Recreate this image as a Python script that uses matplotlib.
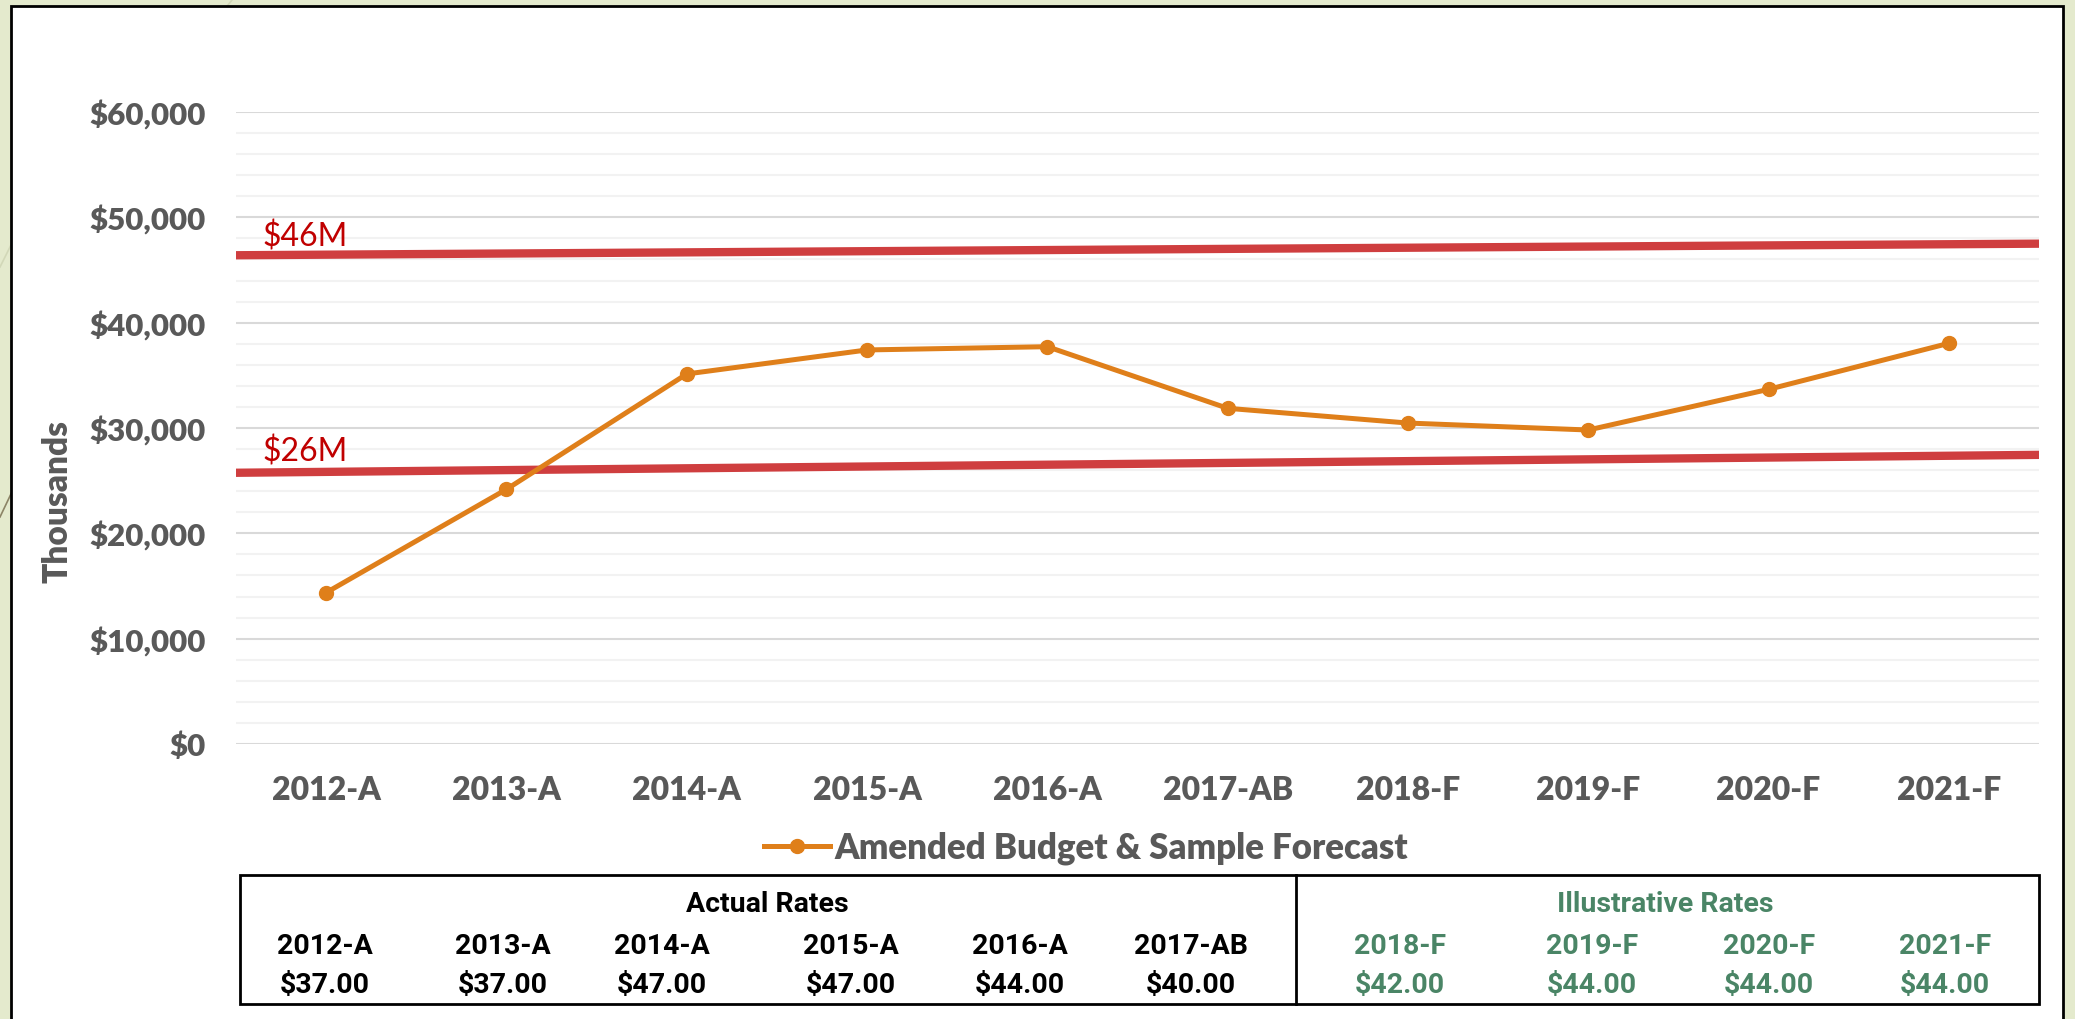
#!/usr/bin/env python3
import matplotlib
matplotlib.use('Agg')
import matplotlib.pyplot as plt
from matplotlib.lines import Line2D
from matplotlib.patches import Rectangle
from matplotlib.ticker import MultipleLocator, FuncFormatter

#%% data
categories = ['2012-A', '2013-A', '2014-A', '2015-A', '2016-A', '2017-AB',
              '2018-F', '2019-F', '2020-F', '2021-F']
forecast = [14370, 24180, 35130, 37410, 37720, 31870, 30470, 29810, 33670, 38040]  # thousands $

limit_labels = ['$46M', '$26M']
limit_start = [46400, 25750]
limit_end = [47500, 27450]

actual_years = ['2012-A', '2013-A', '2014-A', '2015-A', '2016-A', '2017-AB']
actual_rates = ['$37.00', '$37.00', '$47.00', '$47.00', '$44.00', '$40.00']
illus_years = ['2018-F', '2019-F', '2020-F', '2021-F']
illus_rates = ['$42.00', '$44.00', '$44.00', '$44.00']

#%% style
W, H = 2075, 1019
bg = '#E4EACD'
gray = '#595959'
orange = '#DF7F1A'
red = '#CF3E3F'
green = '#4A8566'
axfont = ['Lato', 'DejaVu Sans']
tabfont = ['Roboto', 'DejaVu Sans']
heavy = 'heavy'

def fx(x):
    return x / W

def fy(y):
    return 1 - y / H

fg = plt.figure(figsize=(W / 100, H / 100), dpi=100, facecolor=bg)

# slide decoration behind the panel
for (x0, y0, x1, y1, c) in [(0, 517, 40, 433, '#8C8466'), (0, 267, 40, 187, '#D2D8B8'),
                            (200, 40, 240, -10, '#D2D8B8')]:
    fg.add_artist(Line2D([fx(x0), fx(x1)], [fy(y0), fy(y1)], color=c, lw=1.2, zorder=0))

# white panel
fg.add_artist(Rectangle((fx(11), fy(1030)), fx(2063) - fx(11), fy(6) - fy(1030),
                        facecolor='white', edgecolor='black', lw=2, zorder=1))

#%% chart
ax = fg.add_axes([fx(236), fy(744), fx(2039) - fx(236), fy(112) - fy(744)])
ax.set_facecolor('none')
ax.set_zorder(2)
xs = list(range(len(categories)))

ax.set_xlim(-0.5, len(categories) - 0.5)
ax.set_ylim(0, 60000)
ax.yaxis.set_major_locator(MultipleLocator(10000))
ax.yaxis.set_minor_locator(MultipleLocator(2000))
ax.yaxis.set_major_formatter(FuncFormatter(lambda v, p: '${:,.0f}'.format(v)))
ax.grid(True, which='minor', axis='y', color='#F2F2F2', lw=1.5)
ax.grid(True, which='major', axis='y', color='#D9D9D9', lw=1.5)
ax.set_axisbelow(True)
for s in ax.spines.values():
    s.set_visible(False)
ax.tick_params(axis='both', which='both', length=0)
ax.tick_params(axis='y', pad=22)
ax.tick_params(axis='x', pad=23)
ax.set_xticks(xs)
ax.set_xticklabels(categories)
for lab in ax.get_yticklabels():
    lab.set(family=axfont, fontsize=22.5, fontweight=heavy, color=gray)
for lab in ax.get_xticklabels():
    lab.set(family=axfont, fontsize=23, fontweight=heavy, color=gray)

fg.text(fx(57), fy(501), 'Thousands', rotation=90, ha='center', va='center',
        family=axfont, fontsize=24, fontweight=heavy, color=gray)

# limit lines
for lab, y0, y1, off in zip(limit_labels, limit_start, limit_end, [6, 8]):
    ax.plot([-0.5, len(categories) - 0.5], [y0, y1], color=red, lw=6,
            solid_capstyle='round', zorder=3)
    ax.annotate(lab, (-0.5, y0), xytext=(19, off), textcoords='offset points',
                ha='left', va='baseline', family=axfont, fontsize=23, color='#C00000',
                zorder=4)

ln, = ax.plot(xs, forecast, color=orange, lw=3.6, marker='o', markersize=10,
              label='Amended Budget & Sample Forecast', zorder=5)

leg = fg.legend(handles=[ln], loc='center', bbox_to_anchor=(fx(1086), fy(848)),
                frameon=False, handlelength=1.9, handletextpad=0.15,
                prop=dict(family=axfont, size=25, weight=heavy))
for t in leg.get_texts():
    t.set_color(gray)

#%% rates table
tab_left, tab_right, tab_top, tab_bot, tab_mid = 240, 2039, 875, 1004, 1296
col_x = [325, 503, 662, 851, 1020, 1191, 1400, 1592, 1769, 1945]
fg.add_artist(Rectangle((fx(tab_left), fy(tab_bot)), fx(tab_right) - fx(tab_left),
                        fy(tab_top) - fy(tab_bot), facecolor='none', edgecolor='black',
                        lw=2, zorder=3))
fg.add_artist(Line2D([fx(tab_mid)] * 2, [fy(tab_top), fy(tab_bot)], color='black', lw=2, zorder=3))

tkw = dict(ha='center', va='center', family=tabfont, fontsize=20.5, fontweight='bold', zorder=4)
fg.text(fx(767), fy(905), 'Actual Rates', color='black', **tkw)
fg.text(fx(1665), fy(905), 'Illustrative Rates', color=green, **tkw)
for i, (yr, rt) in enumerate(zip(actual_years + illus_years, actual_rates + illus_rates)):
    c = 'black' if i < len(actual_years) else green
    fg.text(fx(col_x[i]), fy(946), yr, color=c, **tkw)
    fg.text(fx(col_x[i]), fy(986), rt, color=c, **tkw)

fg.savefig('out.png', dpi=100, facecolor=bg)
